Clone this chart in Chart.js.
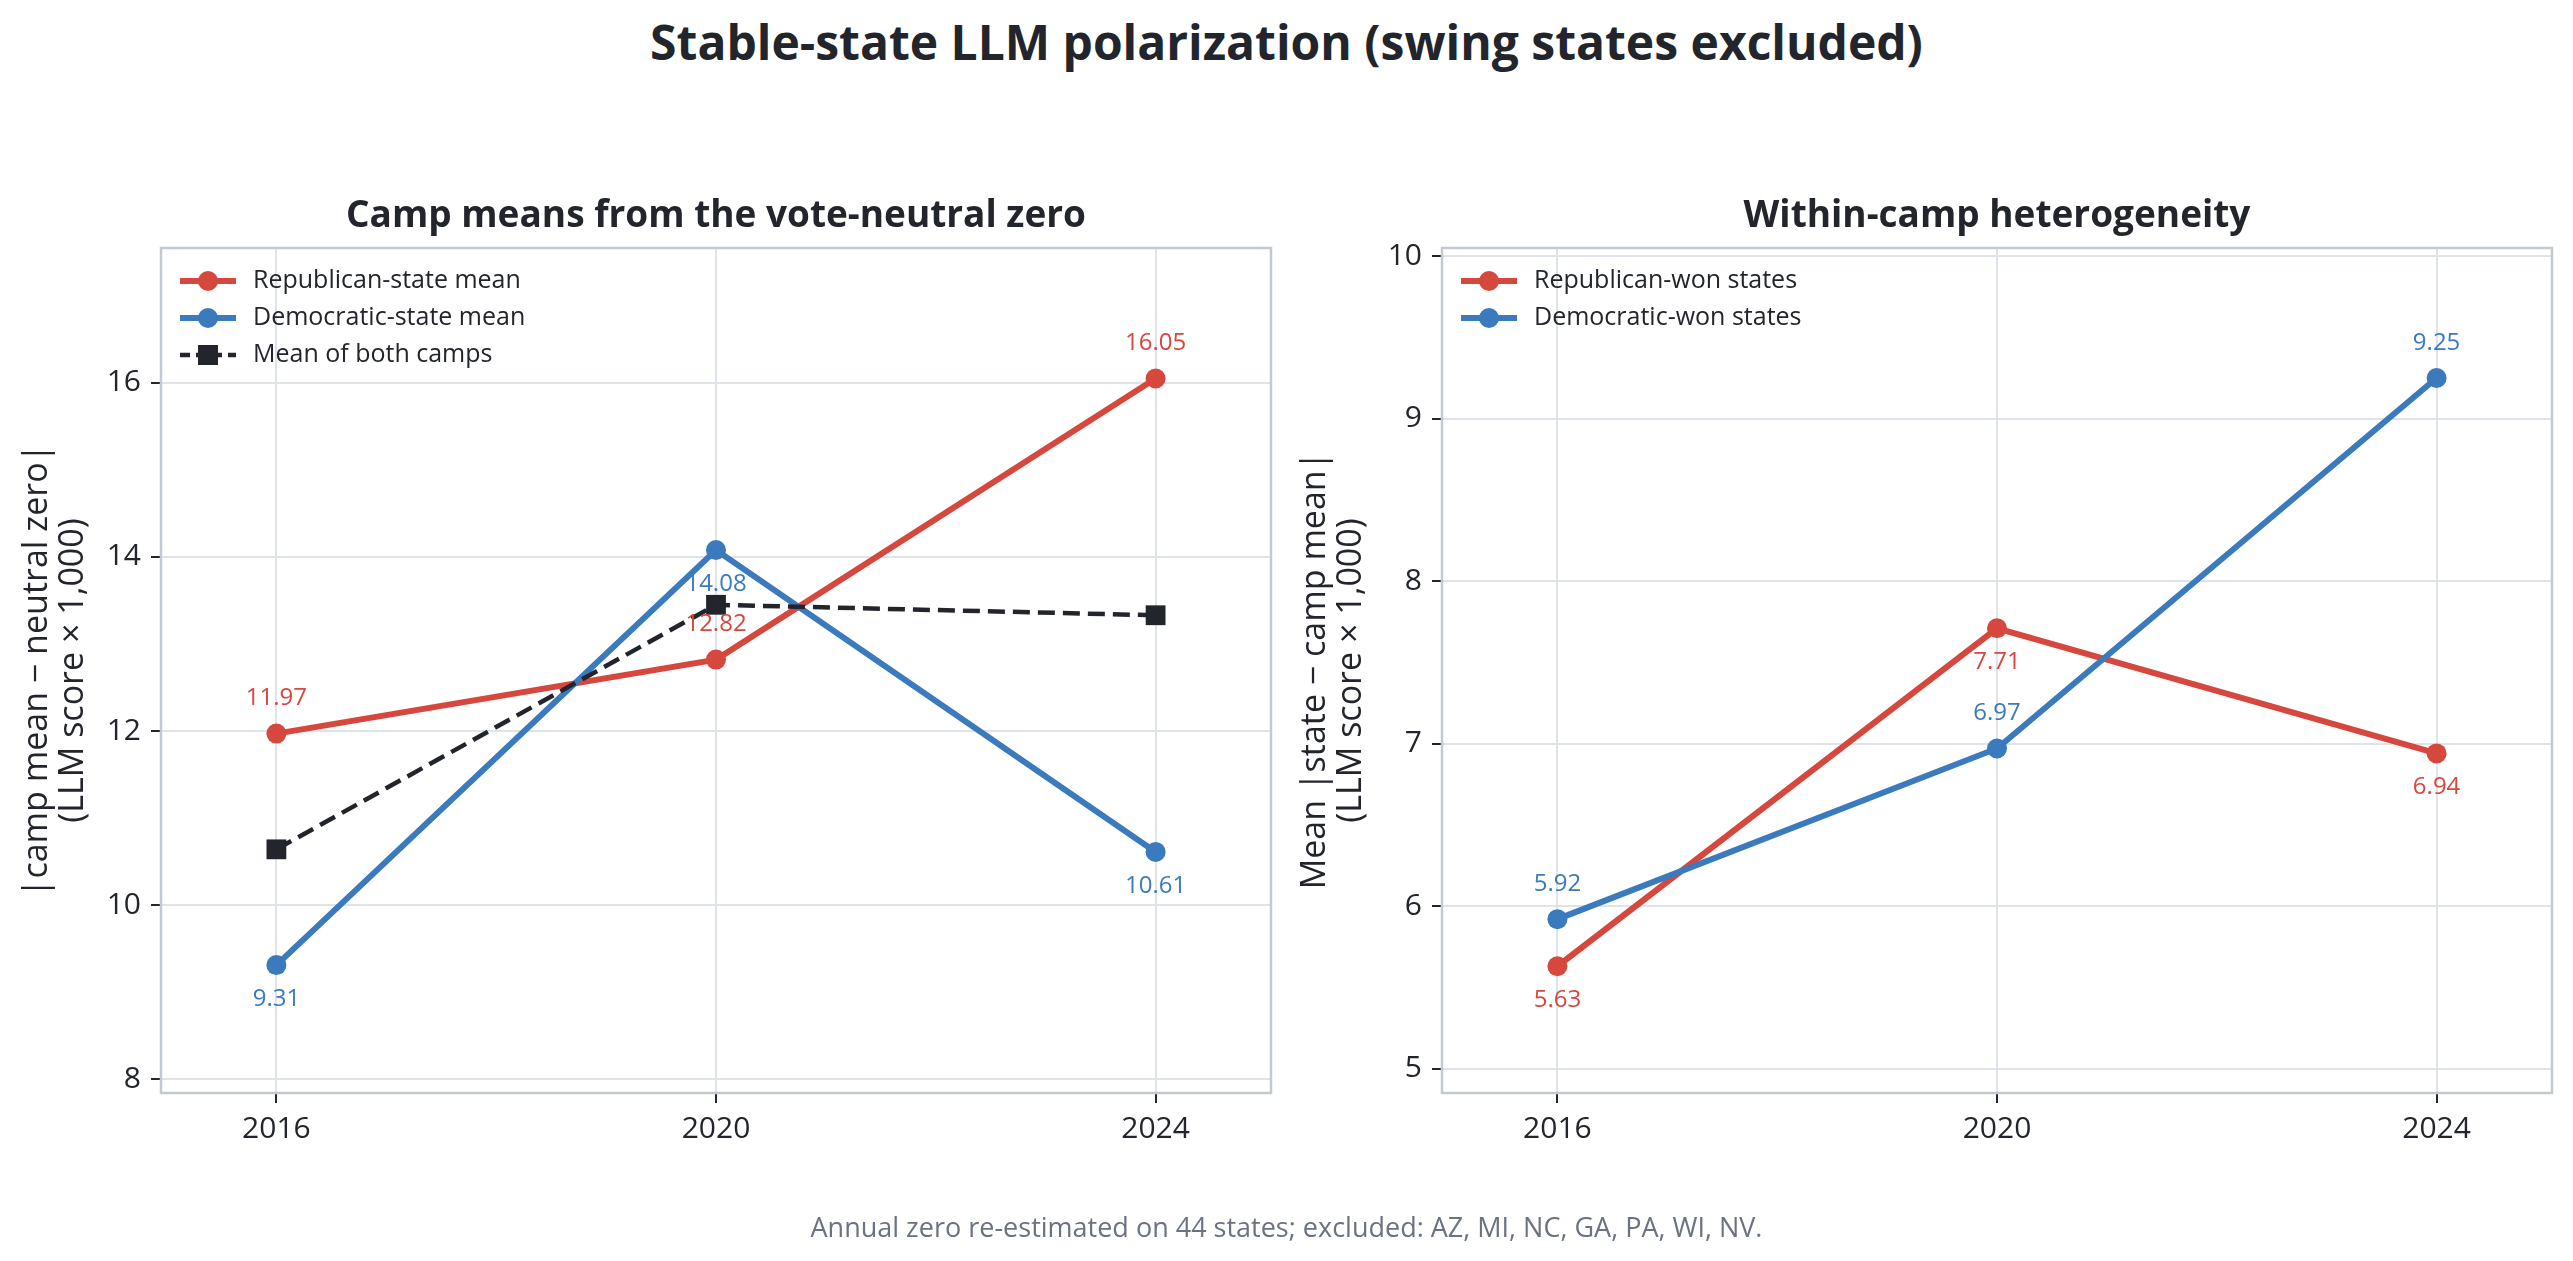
<!DOCTYPE html>
<html>
<head>
<meta charset="utf-8">
<script src="https://cdn.jsdelivr.net/npm/chart.js@4.4.1/dist/chart.umd.min.js"></script>
<style>
  html, body { margin: 0; padding: 0; background: #ffffff; }
  body { width: 2573px; height: 1261px; position: relative; overflow: hidden; font-family: 'Open Sans', sans-serif; }
  canvas { position: absolute; left: 0; top: 0; }
  #title { position: absolute; left: 0; width: 2573px; top: 12px; line-height: 60px; text-align: center; font-weight: 700; font-size: 48px; color: #22252b; }
  #note { position: absolute; left: 0; width: 2573px; top: 1208px; line-height: 38px; text-align: center; font-size: 27px; color: #6b7280; }
</style>
</head>
<body>
<div id="title">Stable-state LLM polarization (swing states excluded)</div>
<canvas id="campChart" width="2573" height="1261"></canvas>
<canvas id="spreadChart" width="2573" height="1261"></canvas>
<div id="note">Annual zero re-estimated on 44 states; excluded: AZ, MI, NC, GA, PA, WI, NV.</div>
<script>
const YEARS = [2016, 2020, 2024];

// left panel: |camp mean - neutral zero|
const REP_MEAN = [11.97, 12.82, 16.05];
const DEM_MEAN = [9.31, 14.08, 10.61];
const BOTH_MEAN = [10.64, 13.45, 13.33];
const LEFT_TICKS = [8, 10, 12, 14, 16];

// right panel: mean |state - camp mean|
const REP_SPREAD = [5.63, 7.71, 6.94];
const DEM_SPREAD = [5.92, 6.97, 9.25];
const RIGHT_TICKS = [5, 6, 7, 8, 9, 10];

const RED = '#d6473d';
const BLUE = '#3a7abd';
const INK = '#22252b';
const GRID = '#dfe4ea';
const FRAME = '#c3c9d2';
const FONT = "'Open Sans', sans-serif";

const toPoints = (vals) => vals.map((v, i) => ({ x: YEARS[i], y: v }));

// frame around the plot area (all four sides)
const framePlugin = {
    id: 'frame',
    beforeDatasetsDraw(chart) {
        const a = chart.chartArea;
        const ctx = chart.ctx;
        ctx.save();
        ctx.strokeStyle = FRAME;
        ctx.lineWidth = 2.5;
        ctx.strokeRect(a.left, a.top, a.right - a.left, a.bottom - a.top);
        ctx.restore();
    }
};

// value labels above / below each point
const valueLabels = {
    id: 'valueLabels',
    afterDatasetsDraw(chart) {
        const ctx = chart.ctx;
        ctx.save();
        ctx.font = `24px ${FONT}`;
        ctx.textAlign = 'center';
        ctx.textBaseline = 'middle';
        chart.data.datasets.forEach((ds, i) => {
            if (!ds.labelSide) return;
            const meta = chart.getDatasetMeta(i);
            ctx.fillStyle = ds.borderColor;
            meta.data.forEach((pt, j) => {
                const dy = ds.labelSide === 'above' ? -35 : 34;
                ctx.fillText(ds.data[j].y.toFixed(2), pt.x, pt.y + dy);
            });
        });
        ctx.restore();
    }
};

// legend drawn inside the plot, top-left
const innerLegend = {
    id: 'innerLegend',
    afterDraw(chart) {
        const a = chart.chartArea;
        const ctx = chart.ctx;
        ctx.save();
        chart.data.datasets.forEach((ds, i) => {
            const y = a.top + 33 + i * 37;
            const x0 = a.left + 19, x1 = a.left + 75, xm = (x0 + x1) / 2;
            ctx.strokeStyle = ds.borderColor;
            ctx.lineWidth = ds.borderWidth;
            ctx.setLineDash(ds.borderDash ? [10, 6] : []);
            ctx.beginPath();
            ctx.moveTo(x0, y);
            ctx.lineTo(x1, y);
            ctx.stroke();
            ctx.setLineDash([]);
            ctx.fillStyle = ds.borderColor;
            if (ds.pointStyle === 'rect') {
                ctx.fillRect(xm - 10, y - 10, 20, 20);
            } else {
                ctx.beginPath();
                ctx.arc(xm, y, 10, 0, Math.PI * 2);
                ctx.fill();
            }
            ctx.fillStyle = INK;
            ctx.font = `25px ${FONT}`;
            ctx.textAlign = 'left';
            ctx.textBaseline = 'middle';
            ctx.fillText(ds.label, a.left + 92, y);
        });
        ctx.restore();
    }
};

// panel title centred over the plot area
const panelTitle = {
    id: 'panelTitle',
    afterDraw(chart, args, opts) {
        const a = chart.chartArea;
        const ctx = chart.ctx;
        ctx.save();
        ctx.fillStyle = INK;
        ctx.font = `700 37px ${FONT}`;
        ctx.textAlign = 'center';
        ctx.textBaseline = 'middle';
        ctx.fillText(opts.text, (a.left + a.right) / 2, 216);
        ctx.restore();
    }
};

function lineSet(label, vals, color, extra) {
    return Object.assign({
        label: label,
        data: toPoints(vals),
        borderColor: color,
        backgroundColor: color,
        borderWidth: 6,
        pointRadius: 10,
        pointHoverRadius: 10,
        pointBorderWidth: 0,
        pointBackgroundColor: color,
        tension: 0,
        fill: false
    }, extra || {});
}

function buildOptions(cfg) {
    return {
        responsive: false,
        animation: false,
        devicePixelRatio: 1,
        layout: { padding: { left: cfg.padLeft, top: 248, right: cfg.padRight, bottom: 0 } },
        plugins: {
            legend: { display: false },
            tooltip: { enabled: false },
            panelTitle: { text: cfg.title }
        },
        scales: {
            x: {
                type: 'linear',
                min: 2014.95,
                max: 2025.05,
                afterBuildTicks: (s) => { s.ticks = YEARS.map((v) => ({ value: v })); },
                afterFit: (s) => { s.height = 1261 - 1093; },
                ticks: { color: INK, font: { family: FONT, size: 30 }, padding: 8, callback: (v) => String(v) },
                grid: { color: GRID, lineWidth: 2, tickLength: 10, tickColor: INK, tickWidth: 2 },
                border: { display: false }
            },
            y: {
                min: cfg.yMin,
                max: cfg.yMax,
                afterBuildTicks: (s) => { s.ticks = cfg.yTicks.map((v) => ({ value: v })); },
                afterFit: (s) => { s.width = cfg.yWidth; },
                ticks: { color: INK, font: { family: FONT, size: 30 }, padding: 10, callback: (v) => String(v) },
                grid: { color: GRID, lineWidth: 2, tickLength: 10, tickColor: INK, tickWidth: 2 },
                border: { display: false },
                title: {
                    display: true,
                    text: cfg.yTitle,
                    color: INK,
                    font: { family: FONT, size: 34, lineHeight: 1.07 },
                    padding: { top: 19, bottom: 0 }
                }
            }
        }
    };
}

new Chart(document.getElementById('campChart'), {
    type: 'line',
    data: {
        datasets: [
            lineSet('Republican-state mean', REP_MEAN, RED, { labelSide: 'above', order: 3 }),
            lineSet('Democratic-state mean', DEM_MEAN, BLUE, { labelSide: 'below', order: 2 }),
            lineSet('Mean of both camps', BOTH_MEAN, INK, {
                borderWidth: 4.5, borderDash: [17, 8], pointStyle: 'rect', pointRadius: 14, pointHoverRadius: 14, order: 1
            })
        ]
    },
    options: buildOptions({
        padLeft: 0, padRight: 2573 - 1271, yWidth: 161,
        yMin: 7.84, yMax: 17.55, yTicks: LEFT_TICKS,
        yTitle: ['|camp mean \u2212 neutral zero|', '(LLM score \u00d7 1,000)'],
        title: 'Camp means from the vote-neutral zero'
    }),
    plugins: [framePlugin, valueLabels, innerLegend, panelTitle]
});

new Chart(document.getElementById('spreadChart'), {
    type: 'line',
    data: {
        datasets: [
            lineSet('Republican-won states', REP_SPREAD, RED, { labelSide: 'below', order: 2 }),
            lineSet('Democratic-won states', DEM_SPREAD, BLUE, { labelSide: 'above', order: 1 })
        ]
    },
    options: buildOptions({
        padLeft: 1278, padRight: 2573 - 2552, yWidth: 1442 - 1278,
        yMin: 4.85, yMax: 10.05, yTicks: RIGHT_TICKS,
        yTitle: ['Mean |state \u2212 camp mean|', '(LLM score \u00d7 1,000)'],
        title: 'Within-camp heterogeneity'
    }),
    plugins: [framePlugin, valueLabels, innerLegend, panelTitle]
});
</script>
</body>
</html>
